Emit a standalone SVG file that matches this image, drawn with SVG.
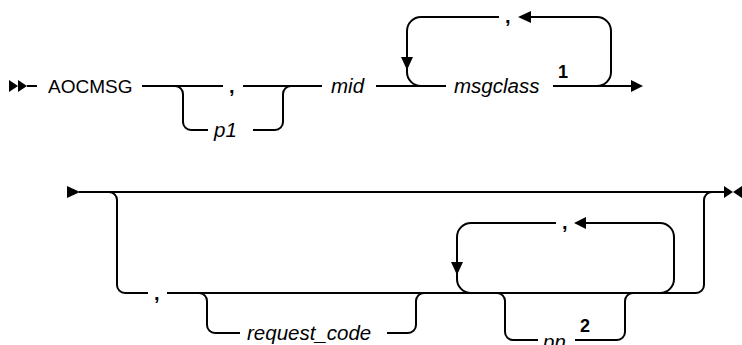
<svg xmlns="http://www.w3.org/2000/svg" width="742" height="345" viewBox="0 0 742 345">
<style>
.ln{fill:none;stroke:#000;stroke-width:2}
.ah{fill:#000;stroke:none}
.kw{font-family:"Liberation Sans",Arial,sans-serif;font-size:19px;fill:#000}
.sep{font-family:"Liberation Sans",Arial,sans-serif;font-size:20px;font-weight:bold;fill:#000}
.var{font-family:"Liberation Sans",Arial,sans-serif;font-size:20.5px;font-style:italic;fill:#000}
.note{font-family:"Liberation Sans",Arial,sans-serif;font-size:18px;font-weight:bold;fill:#000}
</style>
<rect width="742" height="345" fill="#fff"/>
<g id="connectors">
<path class="ln" d="M27,86 H37"/>
<path class="ln" d="M142,86 H223 M243,86 H322"/>
<path class="ln" d="M175,86 A8,8 0 0 1 183,94 V122 A8,8 0 0 0 191,130 H208 M253,130 H275 A8,8 0 0 0 283,122 V94 A8,8 0 0 1 291,86"/>
<path class="ln" d="M376,86 H446 M553,86 H632"/>
<path class="ln" d="M499,17 H421 A14,14 0 0 0 407,31 V72 A14,14 0 0 0 421,86"/>
<path class="ln" d="M530,17 H597 A14,14 0 0 1 611,31 V72 A14,14 0 0 1 597,86"/>
<path class="ln" d="M79,192 H725"/>
<path class="ln" d="M109,192 A8,8 0 0 1 117,200 V285 A8,8 0 0 0 125,293 H148 M167,293 H696 A8,8 0 0 0 704,285 V200 A8,8 0 0 1 712,192"/>
<path class="ln" d="M199,293 A8,8 0 0 1 207,301 V325 A8,8 0 0 0 215,333 H240 M387,333 H408 A8,8 0 0 0 416,325 V301 A8,8 0 0 1 424,293"/>
<path class="ln" d="M556,223 H471 A14,14 0 0 0 457,237 V279 A14,14 0 0 0 471,293"/>
<path class="ln" d="M585,223 H660 A14,14 0 0 1 674,237 V279 A14,14 0 0 1 660,293"/>
<path class="ln" d="M497,293 A8,8 0 0 1 505,301 V332 A8,8 0 0 0 513,340 H538 M575,340 H617 A8,8 0 0 0 625,332 V301 A8,8 0 0 1 633,293"/>
<polygon class="ah" points="9,80 18,86 9,92"/>
<polygon class="ah" points="18,80 27,86 18,92"/>
<polygon class="ah" points="401,57 413,57 407,70"/>
<polygon class="ah" points="518,17 531,11 531,23"/>
<polygon class="ah" points="631,80 643,86 631,92"/>
<polygon class="ah" points="67,186 80,192 67,198"/>
<polygon class="ah" points="724,186 733,192 724,198"/>
<polygon class="ah" points="742,186 733,192 742,198"/>
<polygon class="ah" points="451,262 463,262 457,275"/>
<polygon class="ah" points="574,223 586,217 586,229"/>
</g>
<g id="aocmsg"><text class="kw" x="48" y="93">AOCMSG</text></g>
<g id="comma1"><text class="sep" x="229" y="93">,</text></g>
<g id="p1"><text class="var" x="214" y="137">p1</text></g>
<g id="mid"><text class="var" x="331" y="93">mid</text></g>
<g id="msgclass"><text class="var" x="454" y="93">msgclass</text></g>
<g id="comma-rep1"><text class="sep" x="505" y="23">,</text></g>
<g id="note1"><text class="note" x="558" y="78">1</text></g>
<g id="comma2"><text class="sep" x="154" y="300">,</text></g>
<g id="request_code"><text class="var" x="247" y="340">request_code</text></g>
<g id="comma-rep2"><text class="sep" x="562" y="229">,</text></g>
<g id="pn"><text class="var" x="543" y="349">pn</text></g>
<g id="note2"><text class="note" x="580" y="332">2</text></g>
</svg>
